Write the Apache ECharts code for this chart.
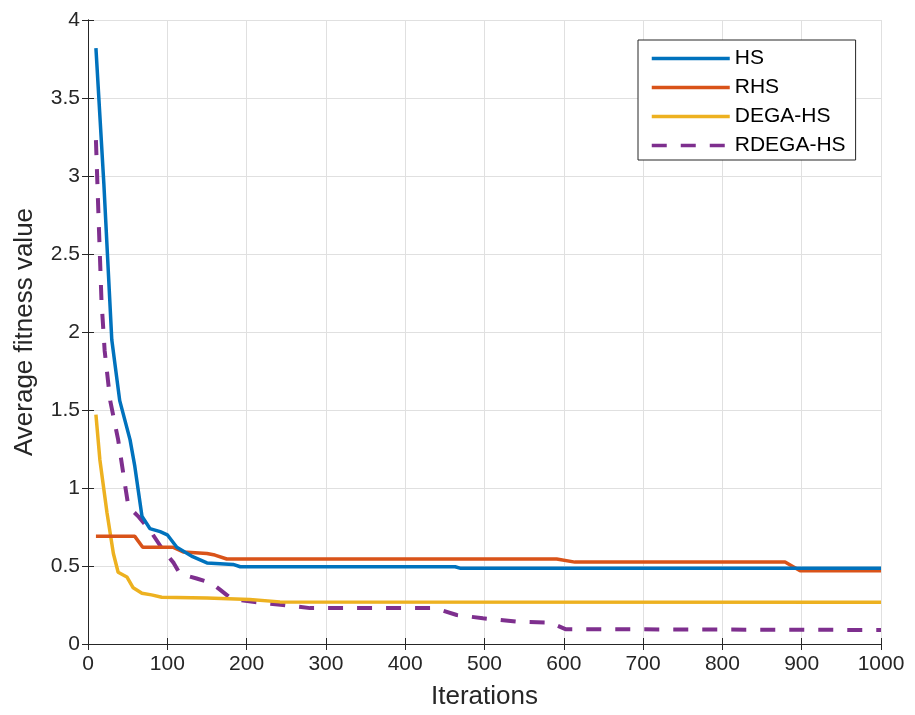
<!DOCTYPE html>
<html>
<head>
<meta charset="utf-8">
<script src="https://cdn.jsdelivr.net/npm/echarts@6/dist/echarts.min.js"></script>
<style>
  html, body { margin: 0; padding: 0; background: #fff; }
  #chart { width: 915px; height: 715px; }
</style>
</head>
<body>
<div id="chart"></div>
<script>
// breakpoints (iteration, average fitness)
const hsX = [10, 20, 30, 40, 53, 59, 68, 78, 91, 100, 112, 132, 150, 183, 192, 463, 470, 1000];
const hsY = [3.82, 2.95, 1.95, 1.56, 1.31, 1.14, 0.82, 0.74, 0.72, 0.70, 0.62, 0.56, 0.52, 0.51, 0.495, 0.495, 0.485, 0.485];

const rhsX = [10, 59, 69, 107, 120, 150, 160, 175, 591, 614, 879, 898, 1000];
const rhsY = [0.69, 0.69, 0.62, 0.62, 0.59, 0.58, 0.57, 0.545, 0.545, 0.525, 0.525, 0.47, 0.47];

const degaX = [10, 15, 24, 32, 38, 49, 57, 68, 80, 93, 150, 204, 242, 1000];
const degaY = [1.47, 1.18, 0.84, 0.58, 0.46, 0.43, 0.36, 0.325, 0.315, 0.30, 0.295, 0.286, 0.27, 0.267];

const rdegaX = [10, 13, 17, 21, 28, 38, 47, 51, 63, 78, 95, 108, 116, 137, 156, 166, 181, 208, 246, 280, 437, 465, 498, 541, 583, 602, 1000];
const rdegaY = [3.23, 2.78, 2.2, 1.88, 1.56, 1.31, 1.01, 0.88, 0.82, 0.73, 0.60, 0.52, 0.45, 0.42, 0.39, 0.35, 0.29, 0.27, 0.25, 0.23, 0.23, 0.186, 0.165, 0.143, 0.137, 0.095, 0.09];

const names = ['HS', 'RHS', 'DEGA-HS', 'RDEGA-HS'];
const colors = ['#0072BD', '#D95319', '#EDB120', '#7E2F8E'];

function pairs(xs, ys) {
  return xs.map((x, i) => [x, ys[i]]);
}

const font = 'Liberation Sans, Arial, Helvetica, sans-serif';
const axisColor = '#262626';
const gridColor = '#e0e0e0';

const chart = echarts.init(document.getElementById('chart'));

const hiddenAxis = {
  axisLine: { show: true, lineStyle: { color: axisColor, width: 1 } },
  axisTick: { show: true, inside: true, length: 6, lineStyle: { color: axisColor } },
  axisLabel: { show: false },
  splitLine: { show: false },
};

chart.setOption({
  backgroundColor: '#fff',
  animation: false,
  grid: { left: 88, right: 34, top: 20, bottom: 71 },
  legend: {
    data: names,
    orient: 'vertical',
    left: 638,
    top: 40,
    padding: [8, 10, 4, 12],
    itemWidth: 78,
    itemHeight: 14,
    itemGap: 8,
    itemStyle: { opacity: 0 },
    lineStyle: { width: 3.5 },
    backgroundColor: '#fff',
    borderColor: axisColor,
    borderWidth: 1,
    borderRadius: 0,
    textStyle: { fontFamily: font, fontSize: 21, lineHeight: 20, color: '#000' },
  },
  xAxis: [
    {
      type: 'value',
      min: 0,
      max: 1000,
      interval: 100,
      name: 'Iterations',
      nameLocation: 'middle',
      nameGap: 40,
      nameTextStyle: { fontFamily: font, fontSize: 26, color: axisColor },
      axisLine: { lineStyle: { color: axisColor, width: 1 } },
      axisTick: { inside: true, length: 6, lineStyle: { color: axisColor } },
      axisLabel: { fontFamily: font, fontSize: 21, color: axisColor, margin: 10, formatter: (v) => String(v) },
      splitLine: { show: true, lineStyle: { color: gridColor, width: 1 } },
    },
    Object.assign({ type: 'value', position: 'top', min: 0, max: 1000, interval: 100 }, hiddenAxis),
  ],
  yAxis: [
    {
      type: 'value',
      min: 0,
      max: 4,
      interval: 0.5,
      name: 'Average fitness value',
      nameLocation: 'middle',
      nameGap: 50,
      nameTextStyle: { fontFamily: font, fontSize: 26, color: axisColor },
      axisLine: { show: true, lineStyle: { color: axisColor, width: 1 } },
      axisTick: { show: true, inside: true, length: 6, lineStyle: { color: axisColor } },
      axisLabel: { fontFamily: font, fontSize: 21, color: axisColor, margin: 8 },
      splitLine: { show: true, lineStyle: { color: gridColor, width: 1 } },
    },
    Object.assign({ type: 'value', position: 'right', min: 0, max: 4, interval: 0.5 }, hiddenAxis),
  ],
  series: [
    { data: pairs(hsX, hsY) },
    { data: pairs(rhsX, rhsY) },
    { data: pairs(degaX, degaY) },
    { data: pairs(rdegaX, rdegaY), dashed: true },
  ].map((s, i) => ({
    name: names[i],
    type: 'line',
    data: s.data,
    symbol: 'none',
    z: 10 - i,
    itemStyle: { color: colors[i] },
    lineStyle: { color: colors[i], width: s.dashed ? 4 : 3.5, type: s.dashed ? [15, 14] : 'solid' },
  })),
});
</script>
</body>
</html>
